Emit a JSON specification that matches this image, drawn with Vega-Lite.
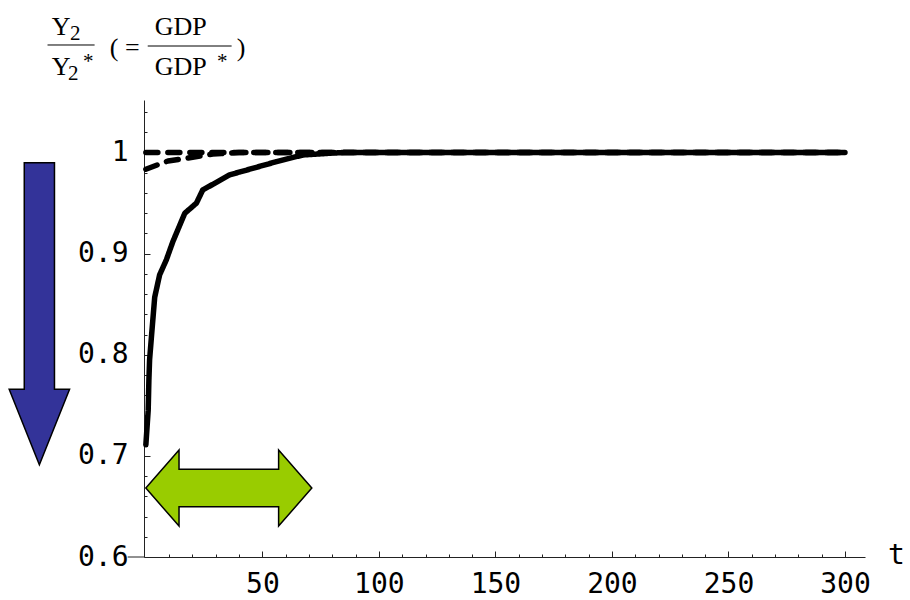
{
  "$schema": "https://vega.github.io/schema/vega-lite/v6.json",
  "autosize": "none",
  "width": 721,
  "height": 457,
  "padding": {"left": 144, "top": 100, "right": 45, "bottom": 43},
  "background": "white",
  "config": {
    "view": {"stroke": null},
    "axis": {
      "labelFont": "DejaVu Sans Mono",
      "labelFontSize": 28,
      "labelColor": "black",
      "labelFlush": false,
      "domainColor": "#222",
      "domainWidth": 1,
      "tickColor": "#222",
      "tickWidth": 1,
      "grid": false,
      "titleFont": "DejaVu Sans Mono",
      "titleFontSize": 28,
      "titleFontWeight": "normal",
      "titleColor": "black"
    }
  },
  "resolve": {"axis": {"x": "independent", "y": "independent"}},
  "layer": [
    {
      "data": {
        "values": [
          {"s": "a", "t": 0, "v": 0.711},
          {"s": "a", "t": 0.5, "v": 0.728},
          {"s": "a", "t": 1, "v": 0.745},
          {"s": "a", "t": 1.3, "v": 0.775},
          {"s": "a", "t": 1.6, "v": 0.795},
          {"s": "a", "t": 2.4, "v": 0.818},
          {"s": "a", "t": 3.8, "v": 0.857},
          {"s": "a", "t": 5.9, "v": 0.879},
          {"s": "a", "t": 8.8, "v": 0.894},
          {"s": "a", "t": 11.6, "v": 0.912},
          {"s": "a", "t": 16.7, "v": 0.94},
          {"s": "a", "t": 21.7, "v": 0.95},
          {"s": "a", "t": 24.4, "v": 0.963},
          {"s": "a", "t": 36, "v": 0.978},
          {"s": "a", "t": 56, "v": 0.991},
          {"s": "a", "t": 67.3, "v": 0.9976},
          {"s": "a", "t": 80, "v": 0.9995},
          {"s": "a", "t": 85, "v": 1.0},
          {"s": "a", "t": 300, "v": 1.0},
          {"s": "b", "t": 0, "v": 1.0},
          {"s": "b", "t": 300, "v": 1.0},
          {"s": "c", "t": 0, "v": 0.9835},
          {"s": "c", "t": 9.5, "v": 0.9917},
          {"s": "c", "t": 17.4, "v": 0.9944},
          {"s": "c", "t": 28.7, "v": 0.9986},
          {"s": "c", "t": 40, "v": 1.0},
          {"s": "c", "t": 300, "v": 1.0}
        ]
      },
      "mark": {"type": "line", "color": "black", "strokeWidth": 5.5, "strokeCap": "round", "strokeJoin": "round"},
      "encoding": {
        "x": {
          "field": "t", "type": "quantitative",
          "scale": {"domain": [-0.8, 308.6], "nice": false, "zero": false},
          "axis": {
            "orient": "bottom",
            "values": [50, 100, 150, 200, 250, 300],
            "format": "d",
            "tickSize": -6,
            "labelPadding": 19,
            "labelOverlap": false,
            "title": "t",
            "titleX": 752,
            "titleY": 6,
            "titleAlign": "center",
            "titleBaseline": "alphabetic",
            "titleAnchor": null
          }
        },
        "y": {
          "field": "v", "type": "quantitative",
          "scale": {"domain": [0.6, 1.052], "nice": false, "zero": false},
          "axis": {
            "orient": "left",
            "values": [0.6, 0.7, 0.8, 0.9, 1.0],
            "labelExpr": "datum.value == 1 ? '1' : format(datum.value, '.1f')",
            "tickSize": -6,
            "labelPadding": 22,
            "labelOverlap": false,
            "title": null
          }
        },
        "detail": {"field": "s"},
        "strokeDash": {
          "field": "s", "type": "nominal",
          "scale": {"domain": ["a", "b", "c"], "range": [[1, 0], [12, 10], [12, 10]]},
          "legend": null
        }
      }
    },
    {
      "data": {"values": [{}]},
      "mark": {"type": "rule", "color": "#222", "strokeWidth": 1},
      "encoding": {
        "x": {
          "datum": -7.8, "type": "quantitative",
          "axis": {
            "orient": "bottom",
            "values": [10,20,30,40,60,70,80,90,110,120,130,140,160,170,180,190,210,220,230,240,260,270,280,290],
            "tickSize": -3,
            "labels": false,
            "domain": false,
            "title": null
          }
        },
        "x2": {"datum": -0.8},
        "y": {
          "datum": 0.6, "type": "quantitative",
          "axis": {
            "orient": "left",
            "values": [0.62,0.64,0.66,0.68,0.72,0.74,0.76,0.78,0.82,0.84,0.86,0.88,0.92,0.94,0.96,0.98,1.02,1.04],
            "tickSize": -3,
            "labels": false,
            "domain": false,
            "title": null
          }
        }
      }
    },
    {
      "data": {"values": [{}]},
      "mark": {"type": "point", "shape": "M -0.1 -1 L 0.1 -1 L 0.1 0.5 L 0.2 0.5 L 0 1 L -0.2 0.5 L -0.1 0.5 Z", "size": 91204, "filled": true, "fill": "#333399", "stroke": "black", "strokeWidth": 1.5, "opacity": 1},
      "encoding": {
        "x": {"datum": -45.7, "type": "quantitative", "axis": null},
        "y": {"datum": 0.8406, "type": "quantitative", "axis": null}
      }
    },
    {
      "data": {"values": [{}]},
      "mark": {"type": "point", "shape": "M -1 0 L -0.6 -0.458 L -0.6 -0.225 L 0.6 -0.225 L 0.6 -0.458 L 1 0 L 0.6 0.458 L 0.6 0.225 L -0.6 0.225 L -0.6 0.458 Z", "size": 27556, "filled": true, "fill": "#99CC00", "stroke": "black", "strokeWidth": 1.5, "opacity": 1},
      "encoding": {
        "x": {"datum": 35.6, "type": "quantitative", "axis": null},
        "y": {"datum": 0.6682, "type": "quantitative", "axis": null}
      }
    },
    {
      "data": {"values": [{}]},
      "mark": {"type": "text", "text": "Y", "font": "Liberation Serif", "fontSize": 26, "align": "left", "baseline": "alphabetic", "color": "black"},
      "encoding": {"x": {"datum": -40.4, "type": "quantitative", "axis": null}, "y": {"datum": 1.1163, "type": "quantitative", "axis": null}}
    },
    {
      "data": {"values": [{}]},
      "mark": {"type": "text", "text": "2", "font": "Liberation Serif", "fontSize": 21, "align": "left", "baseline": "alphabetic", "color": "black"},
      "encoding": {"x": {"datum": -32.6, "type": "quantitative", "axis": null}, "y": {"datum": 1.1114, "type": "quantitative", "axis": null}}
    },
    {
      "data": {"values": [{}]},
      "mark": {"type": "rule", "color": "black", "strokeWidth": 1},
      "encoding": {"x": {"datum": -42.2, "type": "quantitative", "axis": null}, "x2": {"datum": -22.0}, "y": {"datum": 1.1064, "type": "quantitative", "axis": null}}
    },
    {
      "data": {"values": [{}]},
      "mark": {"type": "text", "text": "Y", "font": "Liberation Serif", "fontSize": 26, "align": "left", "baseline": "alphabetic", "color": "black"},
      "encoding": {"x": {"datum": -40.4, "type": "quantitative", "axis": null}, "y": {"datum": 1.0768, "type": "quantitative", "axis": null}}
    },
    {
      "data": {"values": [{}]},
      "mark": {"type": "text", "text": "2", "font": "Liberation Serif", "fontSize": 21, "align": "left", "baseline": "alphabetic", "color": "black"},
      "encoding": {"x": {"datum": -33.4, "type": "quantitative", "axis": null}, "y": {"datum": 1.0718, "type": "quantitative", "axis": null}}
    },
    {
      "data": {"values": [{}]},
      "mark": {"type": "text", "text": "*", "font": "Liberation Serif", "fontSize": 21, "align": "left", "baseline": "alphabetic", "color": "black"},
      "encoding": {"x": {"datum": -27.0, "type": "quantitative", "axis": null}, "y": {"datum": 1.0837, "type": "quantitative", "axis": null}}
    },
    {
      "data": {"values": [{}]},
      "mark": {"type": "text", "text": "( =", "font": "Liberation Serif", "fontSize": 26, "align": "left", "baseline": "alphabetic", "color": "black"},
      "encoding": {"x": {"datum": -15.5, "type": "quantitative", "axis": null}, "y": {"datum": 1.0955, "type": "quantitative", "axis": null}}
    },
    {
      "data": {"values": [{}]},
      "mark": {"type": "text", "text": "GDP", "font": "Liberation Serif", "fontSize": 26, "align": "left", "baseline": "alphabetic", "color": "black"},
      "encoding": {"x": {"datum": 3.8, "type": "quantitative", "axis": null}, "y": {"datum": 1.1163, "type": "quantitative", "axis": null}}
    },
    {
      "data": {"values": [{}]},
      "mark": {"type": "rule", "color": "black", "strokeWidth": 1},
      "encoding": {"x": {"datum": 0.8, "type": "quantitative", "axis": null}, "x2": {"datum": 36.8}, "y": {"datum": 1.1054, "type": "quantitative", "axis": null}}
    },
    {
      "data": {"values": [{}]},
      "mark": {"type": "text", "text": "GDP", "font": "Liberation Serif", "fontSize": 26, "align": "left", "baseline": "alphabetic", "color": "black"},
      "encoding": {"x": {"datum": 3.8, "type": "quantitative", "axis": null}, "y": {"datum": 1.0768, "type": "quantitative", "axis": null}}
    },
    {
      "data": {"values": [{}]},
      "mark": {"type": "text", "text": "*", "font": "Liberation Serif", "fontSize": 21, "align": "left", "baseline": "alphabetic", "color": "black"},
      "encoding": {"x": {"datum": 30.5, "type": "quantitative", "axis": null}, "y": {"datum": 1.0837, "type": "quantitative", "axis": null}}
    },
    {
      "data": {"values": [{}]},
      "mark": {"type": "text", "text": ")", "font": "Liberation Serif", "fontSize": 26, "align": "left", "baseline": "alphabetic", "color": "black"},
      "encoding": {"x": {"datum": 39.0, "type": "quantitative", "axis": null}, "y": {"datum": 1.0955, "type": "quantitative", "axis": null}}
    }
  ]
}
